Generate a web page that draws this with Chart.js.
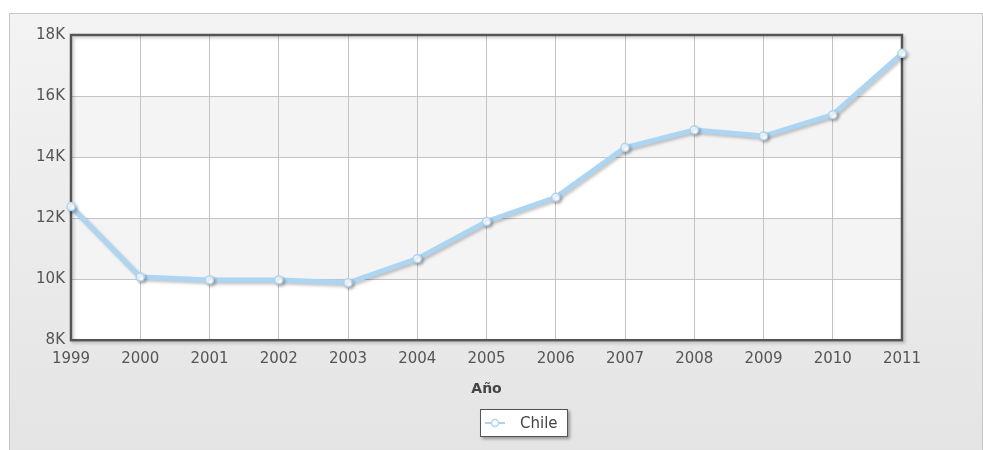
<!DOCTYPE html>
<html>
<head>
<meta charset="utf-8">
<script src="https://cdn.jsdelivr.net/npm/chart.js@4.4.1/dist/chart.umd.min.js"></script>
<style>
  html, body { margin: 0; padding: 0; background: #fff; }
  #wrap { position: relative; width: 983px; height: 450px; overflow: hidden; }
  #panel {
    position: absolute; left: 9px; top: 13px; width: 972px; height: 440px;
    border: 1px solid #c6c6c6; border-bottom: none;
    background: linear-gradient(#f3f3f3, #e4e4e4);
  }
  #chart { position: absolute; left: 0; top: 0; }
  #legend {
    position: absolute; left: 480px; top: 409px; width: 86px; height: 26px;
    background: #fff; border: 1px solid #555;
    box-shadow: 2px 2px 3px rgba(0,0,0,0.35);
    font-family: "DejaVu Sans", Verdana, sans-serif; font-size: 15px; color: #444;
    display: flex; align-items: center;
  }
  #legend svg { margin-left: 4px; margin-right: 15px; }
</style>
</head>
<body>
<div id="wrap">
  <div id="panel"></div>
  <canvas id="chart" width="983" height="450"></canvas>
  <div id="legend"></div>
</div>
<script>
const anios = ['1999', '2000', '2001', '2002', '2003', '2004', '2005', '2006', '2007', '2008', '2009', '2010', '2011'];
const chile = [12380, 10070, 9975, 9975, 9880, 10670, 11890, 12680, 14310, 14890, 14690, 15390, 17400];
const serie = 'Chile';
const ejeX = 'Año';
const yMin = 8000;
const yMax = 18000;
const yPaso = 2000;

const azul = '#acd5f2';

// franjas alternas blancas / grises entre las lineas horizontales
const fondoFranjas = {
  id: 'fondoFranjas',
  beforeDraw(chart) {
    const { ctx, chartArea: a, scales: { y } } = chart;
    ctx.save();
    ctx.fillStyle = '#ffffff';
    ctx.fillRect(a.left, a.top, a.right - a.left, a.bottom - a.top);
    const ticks = y.ticks;
    for (let i = 0; i < ticks.length - 1; i++) {
      if (i % 2 === 1) {
        const y0 = y.getPixelForValue(ticks[i].value);
        const y1 = y.getPixelForValue(ticks[i + 1].value);
        ctx.fillStyle = '#f4f4f4';
        ctx.fillRect(a.left, y1, a.right - a.left, y0 - y1);
      }
    }
    ctx.restore();
  },
  beforeDatasetsDraw(chart) {
    const { ctx, chartArea: a } = chart;
    ctx.save();
    ctx.shadowColor = 'rgba(0,0,0,0.2)';
    ctx.shadowBlur = 3;
    ctx.shadowOffsetX = 2;
    ctx.shadowOffsetY = 2;
    ctx.strokeStyle = '#555';
    ctx.lineWidth = 2.5;
    ctx.strokeRect(a.left, a.top, a.right - a.left, a.bottom - a.top);
    ctx.restore();
  },
  beforeDatasetDraw(chart) {
    const ctx = chart.ctx;
    ctx.save();
    ctx.shadowColor = 'rgba(0,0,0,0.22)';
    ctx.shadowBlur = 3;
    ctx.shadowOffsetX = 2;
    ctx.shadowOffsetY = 2;
  },
  afterDatasetDraw(chart) {
    chart.ctx.restore();
  }
};

const fuente = { family: '"DejaVu Sans", Verdana, sans-serif', size: 15 };

const chart = new Chart(document.getElementById('chart'), {
  type: 'line',
  data: {
    labels: anios,
    datasets: [{
      label: serie,
      data: chile,
      borderColor: azul,
      borderWidth: 5,
      pointRadius: 4,
      pointBorderWidth: 1.5,
      pointBackgroundColor: '#ffffff',
      pointBorderColor: azul,
      tension: 0,
      clip: false
    }]
  },
  options: {
    responsive: false,
    animation: false,
    layout: { padding: { left: 0, top: 35, right: 81, bottom: 52 } },
    plugins: {
      legend: { display: false },
      tooltip: { enabled: false }
    },
    scales: {
      x: {
        type: 'category',
        offset: false,
        grid: { color: '#c4c4c4', drawTicks: false },
        border: { display: false },
        ticks: { color: '#555', font: fuente, padding: 10, maxRotation: 0, autoSkip: false },
        title: { display: true, text: ejeX, color: '#444', font: { ...fuente, size: 14, weight: 'bold' }, padding: { top: 3, bottom: 0 } }
      },
      y: {
        min: yMin,
        max: yMax,
        grid: { color: '#c4c4c4', drawTicks: false },
        border: { display: false },
        ticks: {
          stepSize: yPaso,
          color: '#555',
          font: fuente,
          padding: 6,
          callback: (v) => (v / 1000) + 'K'
        },
        afterFit(scale) { scale.width = 71; }
      }
    }
  },
  plugins: [fondoFranjas]
});

// leyenda en HTML con el icono de linea y punto
const leyenda = document.getElementById('legend');
leyenda.innerHTML =
  '<svg width="20" height="10"><line x1="0" y1="5" x2="20" y2="5" stroke="' + azul + '" stroke-width="2"/>' +
  '<circle cx="10" cy="5" r="3.5" fill="#fff" stroke="' + azul + '" stroke-width="1.5"/></svg>' +
  '<span>' + chart.data.datasets[0].label + '</span>';
</script>
</body>
</html>
